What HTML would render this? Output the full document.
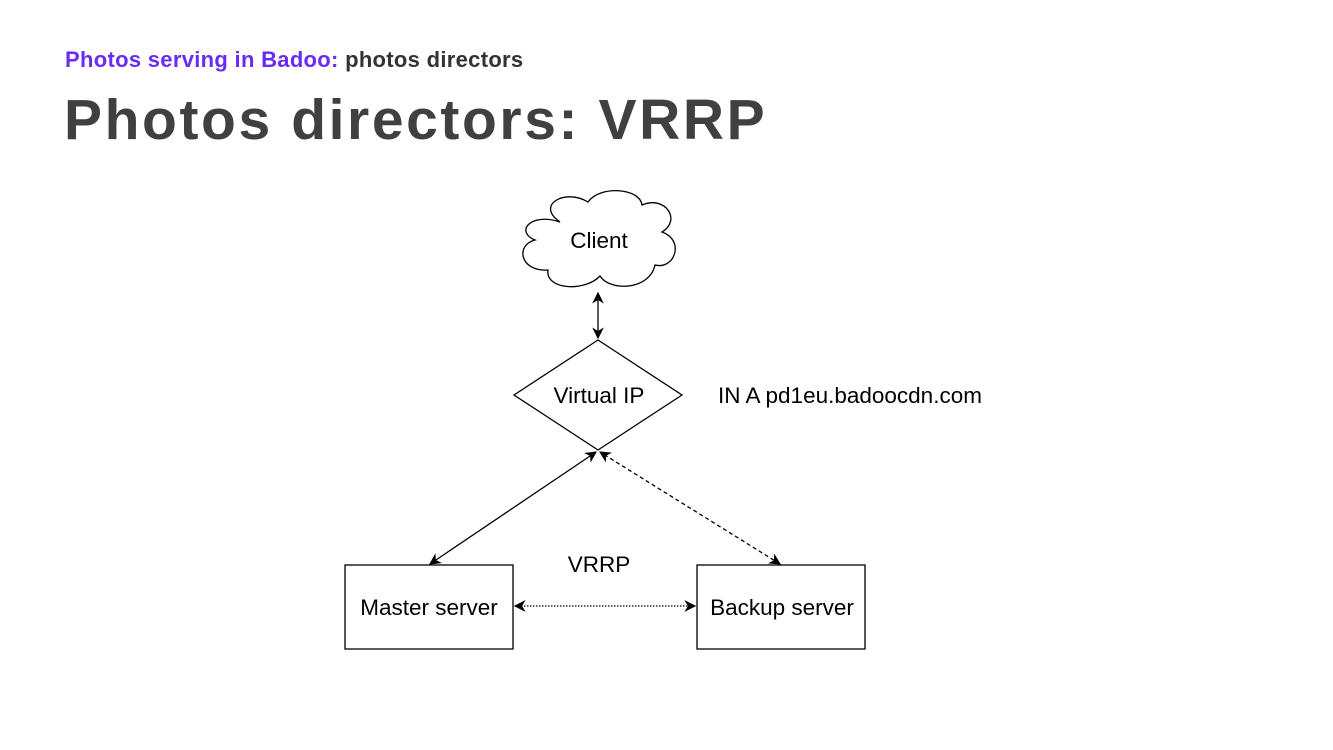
<!DOCTYPE html>
<html><head><meta charset="utf-8"><style>
body{margin:0;width:1333px;height:750px;background:#fff;overflow:hidden;position:relative;font-family:"Liberation Sans",sans-serif}
.sub{position:absolute;left:65px;top:47px;font-size:22px;font-weight:bold;color:#333;letter-spacing:0.3px}
.sub span{color:#6a2cf5}
.title{position:absolute;left:64px;top:87px;font-size:57px;font-weight:bold;color:#404040;letter-spacing:2.6px}
svg{position:absolute;left:0;top:0}
</style></head><body>
<div class="sub"><span>Photos serving in Badoo:</span> photos directors</div>
<div class="title">Photos directors: VRRP</div>
<svg width="1333" height="750" viewBox="0 0 1333 750">
<defs>
<marker id="a" viewBox="0 0 10 10" refX="9" refY="5" markerWidth="9" markerHeight="9" orient="auto-start-reverse"><path d="M0,0 L10,5 L0,10 L3,5 z" fill="#000"/></marker>
</defs>
<g fill="#fff" stroke="#000" stroke-width="1.3">
<path d="M560,222 C535,205 565,188 588,202 C600,185 640,188 642,205 C665,195 682,220 662,232 C685,240 675,270 655,265 C650,290 610,292 600,276 C585,292 545,290 548,270 C520,272 515,245 535,240 C515,232 530,212 560,222 z"/>
<polygon points="598,340 682,395 598,450 514,395"/>
<rect x="345" y="565" width="168" height="84"/>
<rect x="697" y="565" width="168" height="84"/>
</g>
<g stroke="#000" stroke-width="1.3" fill="none">
<line x1="598" y1="293" x2="598" y2="338" marker-start="url(#a)" marker-end="url(#a)"/>
<line x1="430" y1="564" x2="596" y2="452" marker-start="url(#a)" marker-end="url(#a)"/>
<line x1="780" y1="564" x2="600" y2="452" stroke-dasharray="4,3" marker-start="url(#a)" marker-end="url(#a)"/>
<line x1="515" y1="606" x2="695" y2="606" stroke-dasharray="1.5,1.5" marker-start="url(#a)" marker-end="url(#a)"/>
</g>
<g font-family="Liberation Sans, sans-serif" font-size="22.5" fill="#000" text-anchor="middle">
<text x="599" y="248">Client</text>
<text x="599" y="403">Virtual IP</text>
<text x="429" y="615">Master server</text>
<text x="782" y="615">Backup server</text>
<text x="599" y="572">VRRP</text>
<text x="718" y="403" text-anchor="start">IN A pd1eu.badoocdn.com</text>
</g>
</svg>
</body></html>
